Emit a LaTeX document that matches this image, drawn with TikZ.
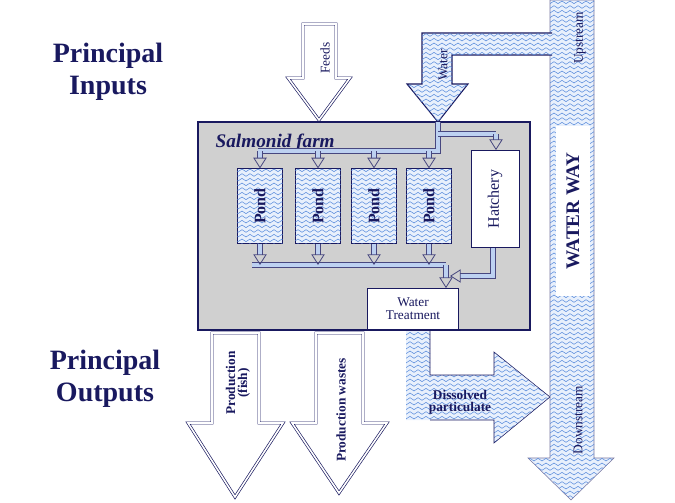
\documentclass[tikz,border=0pt]{standalone}
\usepackage{fontspec}
\setmainfont{Liberation Serif}
\usetikzlibrary{arrows.meta,patterns,positioning}

\definecolor{ink}{RGB}{25,25,95}
\definecolor{wave}{RGB}{90,140,220}
\definecolor{wavebg}{RGB}{232,240,252}
\definecolor{farmgray}{RGB}{208,208,208}

\pgfdeclarepatternformonly{waves}{\pgfqpoint{0pt}{-1pt}}{\pgfqpoint{6pt}{4pt}}{\pgfqpoint{6pt}{3.5pt}}{%
  \pgfsetlinewidth{0.4pt}
  \pgfpathmoveto{\pgfqpoint{0pt}{1pt}}
  \pgfpathcurveto{\pgfqpoint{1pt}{2.3pt}}{\pgfqpoint{2pt}{2.3pt}}{\pgfqpoint{3pt}{1pt}}
  \pgfpathcurveto{\pgfqpoint{4pt}{-0.3pt}}{\pgfqpoint{5pt}{-0.3pt}}{\pgfqpoint{6pt}{1pt}}
  \pgfusepath{stroke}}

\tikzset{
  water/.style={fill=wavebg,postaction={pattern=waves,pattern color=wave}},
  bigarrow/.style={draw=ink,double=white,double distance=1.2pt,line width=0.5pt,line join=miter},
  pond/.style={draw=ink,water,minimum width=34pt,minimum height=56pt,inner sep=0pt},
  pipe/.style={draw=ink!80,double=wave!40,double distance=3.5pt,line width=0.6pt},
  drop/.style={pipe,-{Triangle[open,length=8pt,width=10pt]}},
  lbl/.style={text=ink,font=\bfseries,rotate=90},
  heading/.style={text=ink,font=\bfseries\fontsize{21}{24}\selectfont,align=center}
}

\begin{document}
\begin{tikzpicture}[x=0.75pt,y=-0.75pt]
  \useasboundingbox (0,0) rectangle (675,503);

  % headings
  \node[heading] (inputs) at (108,72) {Principal\\Inputs};
  \node[heading] (outputs) at (105,379) {Principal\\Outputs};

  % water way
  \path[water,draw=ink!60] (550,0) -- (594,0) -- (594,458) -- (614,458) -- (571,500)
    -- (528,458) -- (550,458) -- cycle;
  \node[fill=white,minimum width=25pt,minimum height=128pt,inner sep=0pt] (way) at (573,211) {};
  \node[text=ink,font=\bfseries\Large,rotate=90] at (way) {WATER WAY};
  \node[lbl,font=\normalsize] (up) at (580,38) {Upstream};
  \node[lbl,font=\normalsize] (down) at (578,420) {Downstream};

  % water inlet
  \path[water,draw=ink,line width=0.8pt] (552,33) -- (422,33) -- (422,84) -- (407,84) -- (438,122)
    -- (468,84) -- (452,84) -- (452,55) -- (552,55);
  \node[lbl,font=\normalsize] (wlbl) at (443,65) {Water};

  % feeds
  \draw[bigarrow] (303,24) -- (336,24) -- (336,78) -- (350,78) -- (319,120) -- (288,78) -- (303,78) -- cycle;
  \node[lbl,font=\normalsize] (flbl) at (325,58) {Feeds};

  % farm
  \node[draw=ink,line width=1.5pt,fill=farmgray,minimum width=249pt,minimum height=156pt,
    inner sep=0pt] (farm) at (364,226) {};
  \node[anchor=west,text=ink,font=\itshape\bfseries\Large] (fname) at (211,143) {Salmonid farm};

  \foreach \x [count=\i] in {260,318,374,429}{
    \node[pond] (p\i) at (\x,206) {};
    \node[lbl,font=\bfseries\large] at (p\i) {Pond};
  }
  \node[draw=ink,fill=white,minimum width=36pt,minimum height=73pt,inner sep=0pt] (hatch) at (495,199) {};
  \node[lbl,font=\large] at (hatch) {Hatchery};
  \node[draw=ink,fill=white,minimum width=68pt,minimum height=31pt,inner sep=0pt,
    align=center,text=ink] (treat) at (413,309) {Water\\[-2pt]Treatment};

  % distribution
  \coordinate (top) at (438,122);
  \coordinate (split) at (438,151);
  \coordinate (hsplit) at (496,134);
  \draw[pipe] (top) -- (split) -- (258,151);
  \draw[pipe] (438,134) -- (hsplit);
  \draw[drop] (hsplit) -- (hatch.north -| hsplit);
  \foreach \i in {1,...,4}
    \draw[drop] (p\i.north |- split) -- (p\i.north);

  % collection
  \coordinate (coll) at (446,265);
  \draw[pipe] (252,265) -- (coll);
  \foreach \i in {1,...,4}
    \draw[drop] (p\i.south) -- (p\i.south |- coll);
  \draw[drop] (coll) -- (treat.north -| coll);
  \coordinate (hout) at (493,276);
  \draw[drop] (hatch.south -| hout) -- (hout) -- (450,276);

  % outputs
  \path[water] (406,331) -- (430,331) -- (430,375) -- (494,375) -- (494,352) -- (550,397)
    -- (494,443) -- (494,420) -- (406,420) -- cycle;
  \draw[ink] (430,331) -- (430,375) -- (494,375) -- (494,352) -- (550,397)
    -- (494,443) -- (494,420) -- (430,420);
  \node[text=ink,font=\bfseries,align=center] (diss) at (460,402) {Dissolved\\[-3pt]particulate};

  \draw[bigarrow] (212,333) -- (259,333) -- (259,423) -- (283,423) -- (235,497) -- (188,423) -- (212,423) -- cycle;
  \node[lbl,align=center] (fish) at (238,383) {Production\\[-3pt](fish)};
  \draw[bigarrow] (316,333) -- (363,333) -- (363,423) -- (387,423) -- (339,493) -- (292,423) -- (316,423) -- cycle;
  \node[lbl] (waste) at (341,410) {Production wastes};
\end{tikzpicture}
\end{document}
